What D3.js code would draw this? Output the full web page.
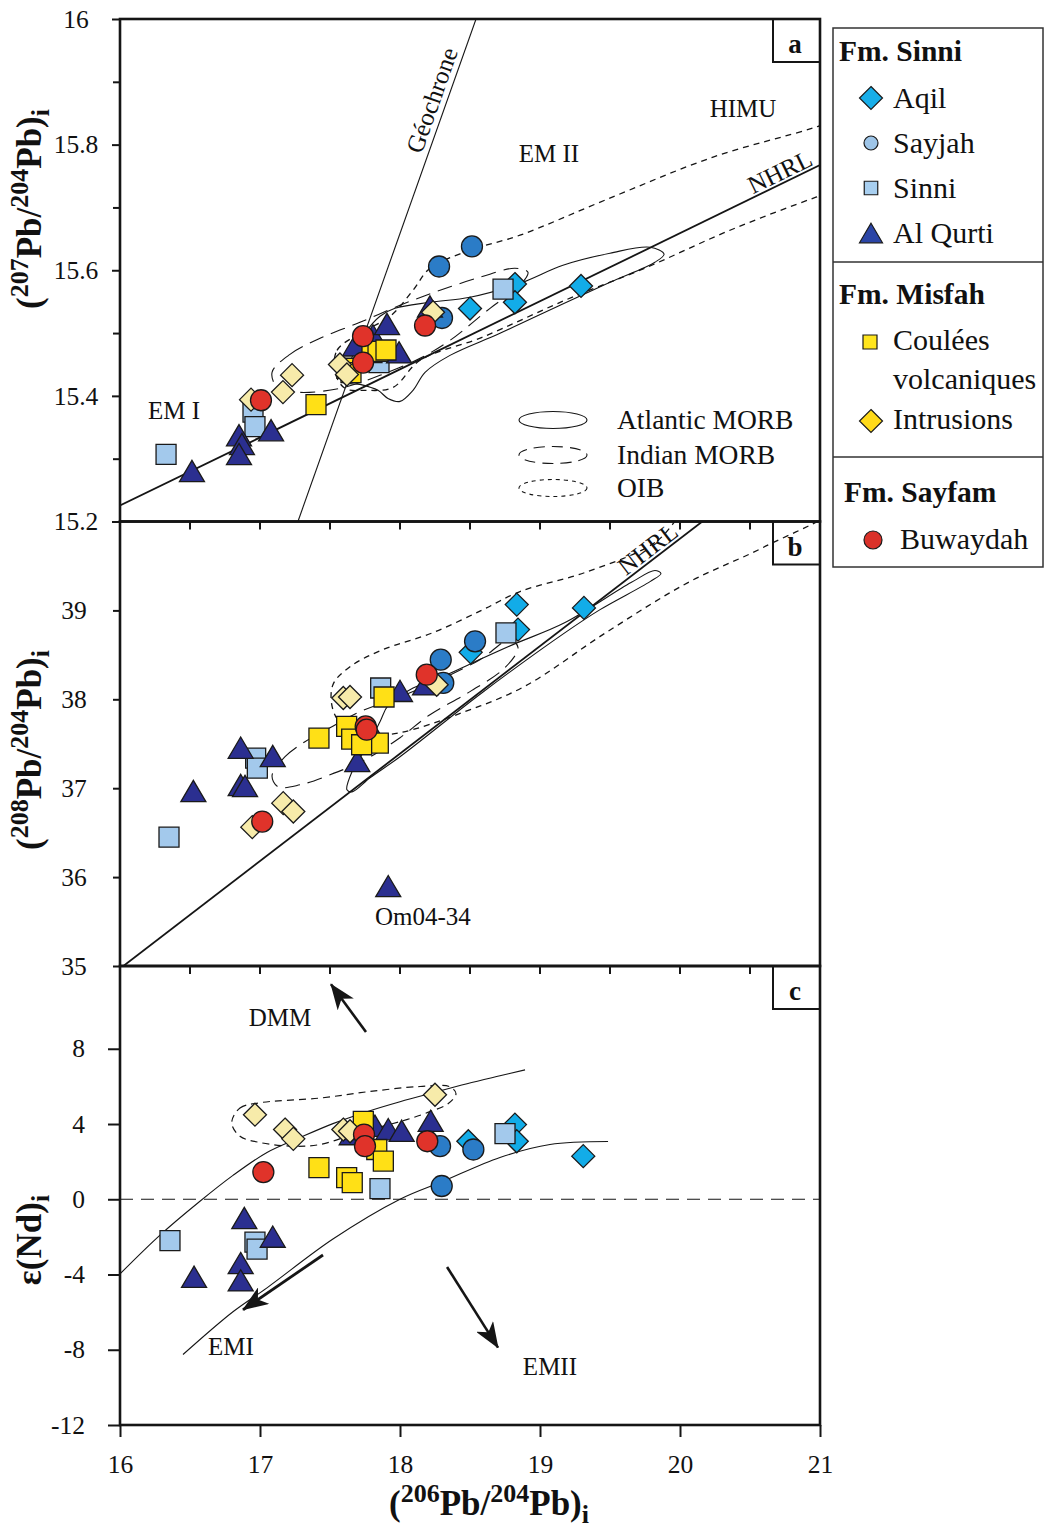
<!DOCTYPE html>
<html><head><meta charset="utf-8">
<script src="https://cdn.jsdelivr.net/npm/d3@7"></script>
<style>
body{margin:0;background:#fff}
svg{display:block}
text{font-family:"Liberation Serif","Times New Roman",serif;fill:#111}
</style>
</head><body>
<svg id="chart" width="1046" height="1528"></svg>
<script>
// ---------------- DATA ----------------
// x = (206Pb/204Pb)i for every panel
// Panel a : (207Pb/204Pb)i
const aqil_a = [[19.293,15.575],[18.821,15.578],[18.821,15.549],[18.5,15.539]];
const sayjah_a = [[18.514,15.638],[18.279,15.606],[18.3,15.524]];
const sinni_a = [[18.736,15.570],[17.85,15.453],[16.95,15.374],[16.964,15.351],[16.329,15.307]];
const alqurti_a = [[16.514,15.277],[16.85,15.334],[16.871,15.320],[16.85,15.304],[17.079,15.342],[17.679,15.477],[17.807,15.493],[17.907,15.511],[17.993,15.466],[18.214,15.539]];
const coulees_a = [[17.4,15.386],[17.621,15.444],[17.65,15.437],[17.8,15.469],[17.843,15.471],[17.9,15.473]];
const intrusions_a = [[16.936,15.394],[17.164,15.406],[17.229,15.433],[17.571,15.450],[17.621,15.434],[18.236,15.533]];
const buwaydah_a = [[17.007,15.393],[17.736,15.495],[17.736,15.453],[18.179,15.512]];
// Panel b : (208Pb/204Pb)i
const aqil_b = [[18.834,39.065],[18.843,38.784],[18.505,38.528],[19.314,39.028]];
const sayjah_b = [[18.536,38.652],[18.291,38.446],[18.309,38.184]];
const sinni_b = [[18.757,38.747],[17.862,38.127],[16.969,37.339],[16.981,37.226],[16.35,36.449]];
const alqurti_b = [[16.524,36.945],[16.862,37.432],[17.091,37.339],[16.862,37.012],[16.893,37.001],[17.695,37.283],[17.814,37.582],[17.916,35.875],[18.0,38.071],[18.179,38.145]];
const coulees_b = [[17.421,37.564],[17.619,37.695],[17.655,37.553],[17.845,37.508],[17.886,38.026],[17.726,37.489]];
const intrusions_b = [[16.945,36.562],[17.166,36.832],[17.238,36.738],[17.595,38.015],[17.643,38.026],[18.262,38.164]];
const buwaydah_b = [[17.016,36.625],[17.755,37.695],[17.762,37.658],[18.191,38.277]];
// Panel c : eps(Nd)i
const aqil_c = [[18.821,3.968],[18.834,3.085],[18.488,3.085],[19.309,2.291]];
const sayjah_c = [[18.286,2.82],[18.524,2.646],[18.298,0.704]];
const sinni_c = [[18.75,3.492],[17.857,0.566],[16.357,-2.196],[16.964,-2.275],[16.979,-2.646]];
const alqurti_c = [[16.529,-4.233],[16.888,-1.106],[17.091,-2.1],[16.862,-3.503],[16.862,-4.423],[17.655,3.349],[17.821,3.794],[17.916,3.614],[18.012,3.529],[18.219,4.058]];
const coulees_c = [[17.421,1.677],[17.619,1.148],[17.659,0.884],[17.738,4.143],[17.834,2.646],[17.881,2.026]];
const intrusions_c = [[16.964,4.497],[17.179,3.704],[17.238,3.212],[17.595,3.704],[17.643,3.614],[18.25,5.556]];
const buwaydah_c = [[17.024,1.444],[17.743,3.439],[17.75,2.82],[18.195,3.085]];

// Reference fields (outlines, data units)
const atlanticA = [[17.629,15.4215],[17.657,15.4614],[17.75,15.4996],[17.857,15.5267],[17.964,15.5394],[18.214,15.549],[18.5,15.557],[18.857,15.5793],[19.164,15.608],[19.5,15.6271],[19.786,15.6367],[19.886,15.6255],[19.821,15.6128],[19.5,15.5809],[19.143,15.5442],[18.714,15.4996],[18.357,15.4645],[18.179,15.4375],[18.093,15.4088],[18.0,15.3912],[17.914,15.396],[17.843,15.4088],[17.714,15.4183]];
const indianA = [[17.086,15.4375],[17.214,15.4661],[17.429,15.4916],[17.714,15.5171],[18.0,15.5442],[18.286,15.5681],[18.571,15.5888],[18.821,15.6032],[18.914,15.5968],[18.857,15.5761],[18.643,15.5394],[18.357,15.4884],[18.143,15.4598],[17.857,15.4327],[17.571,15.412],[17.286,15.4056],[17.129,15.412]];
const oibA = [[17.536,15.4375],[17.55,15.4725],[17.714,15.4996],[17.929,15.5267],[18.093,15.5681],[18.214,15.6032],[18.5,15.6319],[18.857,15.6558],[19.464,15.7116],[20.236,15.7801],[20.971,15.8279],[21.429,15.863],[21.429,15.7514],[20.971,15.7163],[20.357,15.6637],[19.764,15.6048],[19.179,15.5522],[18.586,15.4932],[18.143,15.4566],[17.95,15.4135],[17.75,15.4088],[17.607,15.412]];
const atlanticB = [[17.621,36.982],[17.657,37.185],[17.771,37.489],[17.857,37.748],[17.914,37.928],[18.071,38.108],[18.286,38.243],[18.521,38.412],[18.807,38.615],[19.179,38.863],[19.65,39.313],[19.821,39.448],[19.864,39.414],[19.786,39.324],[19.429,39.009],[19.179,38.75],[18.586,38.074],[18.0,37.354],[17.786,37.117],[17.657,36.959]];
const indianB = [[17.086,37.14],[17.179,37.354],[17.321,37.523],[17.5,37.68],[17.714,37.86],[18.0,38.029],[18.286,38.221],[18.571,38.446],[18.786,38.671],[18.843,38.581],[18.75,38.356],[18.5,38.086],[18.214,37.827],[18.0,37.568],[17.75,37.32],[17.5,37.151],[17.286,37.038],[17.129,37.016]];
const oibB = [[20.143,40.248],[19.821,39.764],[19.321,39.426],[18.857,39.212],[18.593,39.009],[18.236,38.75],[17.879,38.559],[17.643,38.367],[17.521,38.164],[17.521,37.883],[17.607,37.68],[17.786,37.601],[18.0,37.624],[18.443,37.849],[18.886,38.142],[19.471,38.75],[20.057,39.313],[20.593,39.707],[21.143,40.191]];
const mixUpperC = [[16.0,-3.968],[16.286,-1.905],[16.571,-0.106],[16.807,1.27],[17.05,2.487],[17.286,3.28],[17.521,4.021],[17.764,4.656],[18.0,5.185],[18.236,5.661],[18.479,6.138],[18.714,6.561],[18.893,6.878]];
const mixLowerC = [[16.45,-8.254],[16.807,-5.979],[17.05,-4.709],[17.521,-2.116],[18.0,0.0],[18.307,0.952],[18.714,2.222],[19.071,2.91],[19.486,3.069]];
const intrusionFieldC = [[16.798,4.058],[16.857,4.852],[17.0,5.132],[17.429,5.381],[17.786,5.73],[18.143,5.995],[18.357,5.979],[18.4,5.608],[18.343,5.079],[18.214,4.656],[18.048,4.233],[17.834,3.794],[17.643,3.386],[17.429,2.91],[17.236,2.82],[17.0,3.016],[16.857,3.349]];

// Reference lines
const nhrl207 = [0.1084, 13.491];   // slope, intercept
const nhrl208 = [1.209, 15.627];
const geochrone = [[17.271,15.2],[18.543,16.0]];

// Ticks
const xTicks = [16,17,18,19,20,21];
const xHalfTicks = [16.5,17,17.5,18,18.5,19,19.5,20,20.5];
const yTicksA = [15.2,15.4,15.6,15.8,16];
const yMinorA = [15.3,15.5,15.7,15.9];
const yTicksB = [35,36,37,38,39];
const yTicksC = [-12,-8,-4,0,4,8];

// ---------------- CHART ----------------
const svg = d3.select('#chart');
const defs = svg.append('defs');
const X = d3.scaleLinear().domain([16,21]).range([120,820]);
const P = {
  a:{y:d3.scaleLinear().domain([15.2,16]).range([521.5,19]), top:19, bot:521.5},
  b:{y:d3.scaleLinear().domain([35,40]).range([966,521.5]), top:521.5, bot:966},
  c:{y:d3.scaleLinear().domain([-12,12.4]).range([1425,966]), top:966, bot:1425}
};
const INK = '#151515';
const fmt = d => String(d);

Object.entries(P).forEach(([k,p])=>{
  defs.append('clipPath').attr('id','clip-'+k).append('rect')
    .attr('x',120).attr('y',p.top).attr('width',700).attr('height',p.bot-p.top);
  p.g = svg.append('g');
  p.clip = p.g.append('g').attr('clip-path','url(#clip-'+k+')');
});

defs.append('marker').attr('id','ah').attr('viewBox','0 0 26 20').attr('refX',25).attr('refY',10)
  .attr('markerWidth',26).attr('markerHeight',20).attr('markerUnits','userSpaceOnUse').attr('orient','auto')
  .append('path').attr('d','M0,0 L26,10 L0,20 L7,10 Z').attr('fill',INK);

function field(p, pts, dash, closed=true, w=1.1){
  const line = d3.line().x(d=>X(d[0])).y(d=>p.y(d[1]))
     .curve(closed ? d3.curveCatmullRomClosed.alpha(0.5) : d3.curveCatmullRom.alpha(0.5));
  p.clip.append('path').attr('d',line(pts)).attr('fill','none').attr('stroke',INK)
     .attr('stroke-width',w).attr('stroke-dasharray',dash||null);
}
function seg(p, a, b, w, dash, marker){
  const l = p.clip.append('line').attr('x1',X(a[0])).attr('y1',p.y(a[1])).attr('x2',X(b[0])).attr('y2',p.y(b[1]))
    .attr('stroke',INK).attr('stroke-width',w).attr('stroke-dasharray',dash||null);
  if(marker) l.attr('marker-end','url(#ah)');
  return l;
}
function label(p, d, txt, size){
  return p.g.append('text').attr('x',X(d[0])).attr('y',p.y(d[1])).attr('text-anchor','middle')
    .attr('dominant-baseline','central').attr('font-size',size).text(txt);
}
function rotLabel(p, d, txt, size, angle, dy){
  p.g.append('text').attr('transform',`translate(${X(d[0])},${p.y(d[1])}) rotate(${angle})`)
    .attr('y',dy).attr('text-anchor','middle').attr('font-size',size).text(txt);
}
function angleOf(p, a, b){
  return Math.atan2(p.y(b[1])-p.y(a[1]), X(b[0])-X(a[0]))*180/Math.PI;
}

// ---- Panel a ----
{
  const p = P.a;
  field(p, atlanticA, null);
  field(p, indianA, '15,8');
  field(p, oibA, '6,5', true, 1.3);
  const n0=[16, nhrl207[0]*16+nhrl207[1]], n1=[21, nhrl207[0]*21+nhrl207[1]];
  seg(p, n0, n1, 1.8);
  seg(p, geochrone[0], geochrone[1], 1.1);
  rotLabel(p, [18.325,15.863], 'Géochrone', 25, angleOf(p, geochrone[0], geochrone[1]), -6);
  const nx = 20.75;
  rotLabel(p, [nx, nhrl207[0]*nx+nhrl207[1]], 'NHRL', 25, angleOf(p,n0,n1), -3);
  label(p,[20.45,15.858],'HIMU',25);
  label(p,[19.064,15.786],'EM II',25);
  label(p,[16.386,15.377],'EM I',25);
  // field legend
  const lg = p.g.append('g');
  [['Atlantic MORB',null,420],['Indian MORB','11,7',455],['OIB','4,4',488]].forEach(([t,d,yy])=>{
    lg.append('ellipse').attr('cx',553).attr('cy',yy).attr('rx',34).attr('ry',8.5)
      .attr('fill','none').attr('stroke',INK).attr('stroke-width',1.1).attr('stroke-dasharray',d);
    lg.append('text').attr('x',617).attr('y',yy+9).attr('font-size',27.5).text(t);
  });
}
// ---- Panel b ----
{
  const p = P.b;
  field(p, atlanticB, null);
  field(p, indianB, '15,8');
  field(p, oibB, '6,5', true, 1.3);
  const n0=[16, nhrl208[0]*16+nhrl208[1]], n1=[21, nhrl208[0]*21+nhrl208[1]];
  seg(p, n0, n1, 1.8);
  const nx = 19.82;
  rotLabel(p, [nx, nhrl208[0]*nx+nhrl208[1]], 'NHRL', 25, angleOf(p,n0,n1), -3);
  label(p,[18.164,35.56],'Om04-34',25);
}
// ---- Panel c ----
{
  const p = P.c;
  seg(p,[16,0],[21,0],1.2,'13,8');
  field(p, mixUpperC, null, false, 1.1);
  field(p, mixLowerC, null, false, 1.1);
  field(p, intrusionFieldC, '7,5', true, 1.2);
  seg(p,[17.757,8.889],[17.507,11.43],2.6,null,true);
  seg(p,[17.45,-2.963],[16.879,-5.873],2.8,null,true);
  seg(p,[18.336,-3.598],[18.70,-7.884],2.6,null,true);
  label(p,[17.143,9.683],'DMM',25);
  label(p,[16.793,-7.85],'EMI',25);
  label(p,[19.071,-8.9],'EMII',25);
}

// ---- Markers ----
const seriesStyle = [
  {key:'aqil',       shape:'diamond',  size:11.5, fill:'#12ACE8'},
  {key:'sinni',      shape:'square',   size:20,   fill:'#A3C9EC'},
  {key:'sayjah',     shape:'circle',   size:10.5, fill:'#2B7CC7'},
  {key:'alqurti',    shape:'triangle', size:25,   fill:'#2B2F90'},
  {key:'coulees',    shape:'square',   size:20,   fill:'#FFE016'},
  {key:'intrusions', shape:'diamond',  size:11.5, fill:'#F7EBAA'},
  {key:'buwaydah',   shape:'circle',   size:10.5, fill:'#E0332A'}
];
const panelData = {
  a:{aqil:aqil_a,sinni:sinni_a,sayjah:sayjah_a,alqurti:alqurti_a,coulees:coulees_a,intrusions:intrusions_a,buwaydah:buwaydah_a},
  b:{aqil:aqil_b,sinni:sinni_b,sayjah:sayjah_b,alqurti:alqurti_b,coulees:coulees_b,intrusions:intrusions_b,buwaydah:buwaydah_b},
  c:{aqil:aqil_c,sinni:sinni_c,sayjah:sayjah_c,alqurti:alqurti_c,coulees:coulees_c,intrusions:intrusions_c,buwaydah:buwaydah_c}
};
function sym(shape, s){
  if(shape==='square') return `M${-s/2},${-s/2}h${s}v${s}h${-s}Z`;
  if(shape==='diamond') return `M0,${-s}L${s},0L0,${s}L${-s},0Z`;
  if(shape==='circle') return `M${s},0A${s},${s} 0 1,1 ${-s},0A${s},${s} 0 1,1 ${s},0Z`;
  const h = s*0.85;
  return `M0,${-h*0.6}L${s/2},${h*0.4}L${-s/2},${h*0.4}Z`;
}
Object.entries(P).forEach(([k,p])=>{
  seriesStyle.forEach(st=>{
    p.g.append('g').selectAll('path').data(panelData[k][st.key]).join('path')
      .attr('transform',d=>`translate(${X(d[0])},${p.y(d[1])})`)
      .attr('d',sym(st.shape,st.size)).attr('fill',st.fill)
      .attr('stroke','#1a1a1a').attr('stroke-width',1.3);
  });
});

// ---- Frames, ticks, axes ----
Object.entries(P).forEach(([k,p])=>{
  p.g.append('rect').attr('x',120).attr('y',p.top).attr('width',700).attr('height',p.bot-p.top)
    .attr('fill','none').attr('stroke',INK).attr('stroke-width',2.6);
  p.g.append('path').attr('d',`M773,${p.top}V${p.top+43}H819`).attr('fill','none').attr('stroke',INK).attr('stroke-width',2);
  p.g.append('text').attr('x',795).attr('y',p.top+34).attr('text-anchor','middle').attr('font-size',27)
    .attr('font-weight','bold').text(k);
  if(k!=='a'){
    p.g.append('g').selectAll('line').data(xHalfTicks).join('line')
      .attr('x1',d=>X(d)).attr('x2',d=>X(d)).attr('y1',p.top).attr('y2',p.top+8)
      .attr('stroke',INK).attr('stroke-width',2);
  }
});

function styleAxis(g, size, anchorX, anchor){
  g.select('.domain').remove();
  g.selectAll('.tick line').attr('stroke',INK).attr('stroke-width',2);
  g.selectAll('.tick text').attr('font-size',size).attr('fill','#111')
    .attr('font-family','"Liberation Serif","Times New Roman",serif');
  if(anchorX!==undefined) g.selectAll('.tick text').attr('x',anchorX).attr('text-anchor',anchor);
}
{
  const ga = svg.append('g').attr('transform','translate(120,0)')
    .call(d3.axisLeft(P.a.y).tickValues(yTicksA).tickSize(8).tickFormat(fmt));
  styleAxis(ga, 25.5, -44, 'middle');
  svg.append('g').attr('transform','translate(120,0)')
    .call(d3.axisLeft(P.a.y).tickValues(yMinorA).tickSize(7).tickFormat(''))
    .call(g=>{g.select('.domain').remove(); g.selectAll('line').attr('stroke',INK).attr('stroke-width',2);});
  const gb = svg.append('g').attr('transform','translate(120,0)')
    .call(d3.axisLeft(P.b.y).tickValues(yTicksB).tickSize(7).tickFormat(fmt));
  styleAxis(gb, 25.5, -46, 'middle');
  const gc = svg.append('g').attr('transform','translate(120,0)')
    .call(d3.axisLeft(P.c.y).tickValues(yTicksC).tickSize(12).tickFormat(fmt));
  styleAxis(gc, 25.5, -35, 'end');
  const gx = svg.append('g').attr('transform',`translate(0,${P.c.bot})`)
    .call(d3.axisBottom(X).tickValues(xTicks).tickSize(12).tickFormat(fmt));
  styleAxis(gx, 25.5);
  gx.selectAll('.tick text').attr('y',30);
}

// ---- Axis titles ----
function title(x, y, rot, parts, size=35, small=26){
  const t = svg.append('text').attr('transform',`translate(${x},${y}) rotate(${rot})`)
    .attr('text-anchor','middle').attr('font-weight','bold').attr('font-size',size);
  let shift = 0;
  parts.forEach(([s,type])=>{
    let target = type==='sup' ? -13 : type==='sub' ? 8 : 0;
    t.append('tspan').attr('dy',target-shift).attr('font-size',type?small:size).text(s);
    shift = target;
  });
}
const pbParts = (n)=>[['(',null],[n,'sup'],['Pb/',null],['204','sup'],['Pb)',null],['i','sub']];
title(41,209,-90,pbParts('207'));
title(41,750,-90,pbParts('208'));
title(41,1240,-90,[['ε(Nd)',null],['i','sub']]);
title(489,1515,0,pbParts('206'));

// ---- Legend ----
{
  const lg = svg.append('g');
  lg.append('rect').attr('x',833).attr('y',28).attr('width',210).attr('height',539)
    .attr('fill','#fff').attr('stroke','#333').attr('stroke-width',1.5);
  [262,457].forEach(yy=>lg.append('line').attr('x1',833).attr('x2',1043).attr('y1',yy).attr('y2',yy)
    .attr('stroke','#333').attr('stroke-width',1.5));
  [['Fm. Sinni',839,61],['Fm. Misfah',839,304],['Fm. Sayfam',844,502]].forEach(([t,x,y])=>
    lg.append('text').attr('x',x).attr('y',y).attr('font-size',29.5).attr('font-weight','bold').text(t));
  const items = [
    ['Aqil','diamond',11.5,'#17AEE9',871,98,893,108],
    ['Sayjah','circle',7,'#9EC5E8',871,143,893,153],
    ['Sinni','square',13.5,'#A8CFF0',871,188,893,198],
    ['Al Qurti','triangle',23,'#2B45A6',871,235,893,243],
    ['Coulées','square',14,'#FFE51E',870,342,893,350],
    ['Intrusions','diamond',11.5,'#FFDA1A',871,421,893,429],
    ['Buwaydah','circle',9,'#DA3129',873,540,900,549]
  ];
  items.forEach(([t,sh,s,f,mx,my,tx,ty])=>{
    lg.append('path').attr('transform',`translate(${mx},${my})`).attr('d',sym(sh,s))
      .attr('fill',f).attr('stroke','#1a1a1a').attr('stroke-width',1.2);
    lg.append('text').attr('x',tx).attr('y',ty).attr('font-size',30).text(t);
  });
  lg.append('text').attr('x',893).attr('y',389).attr('font-size',30).text('volcaniques');
}
</script>
</body></html>
